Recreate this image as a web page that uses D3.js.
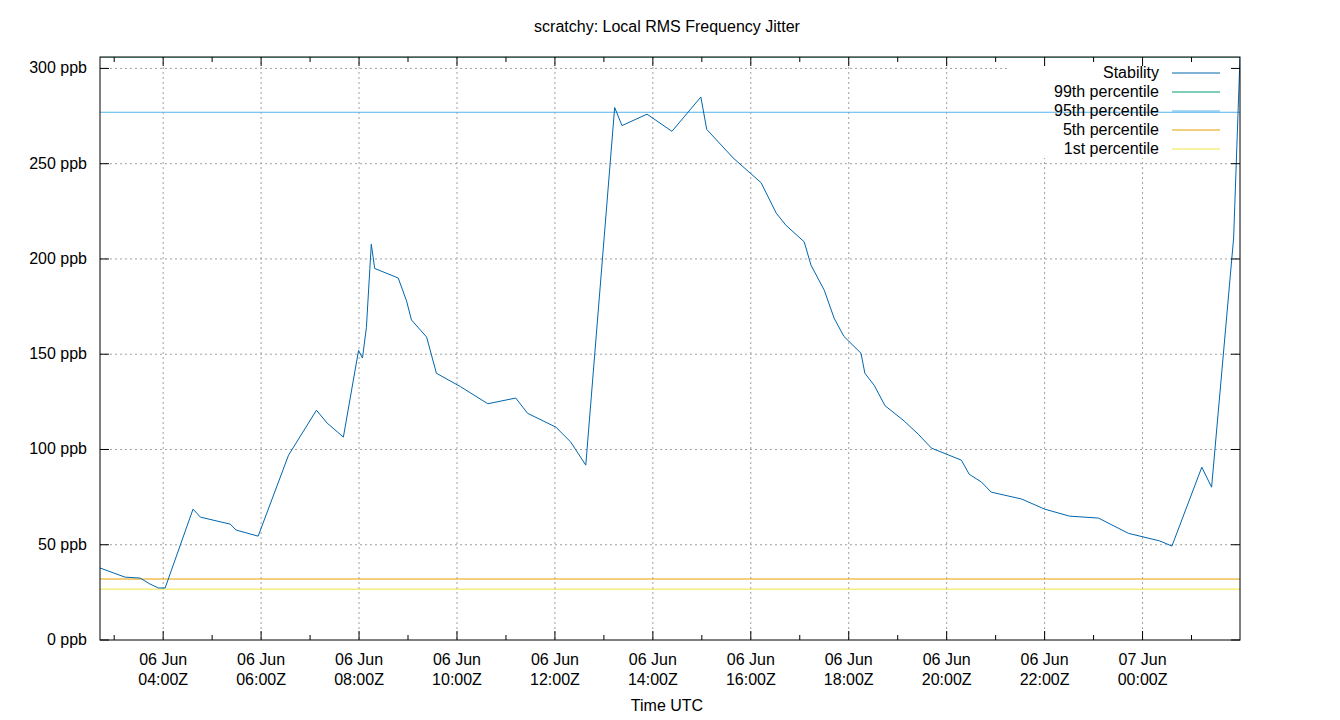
<!DOCTYPE html>
<html><head><meta charset="utf-8">
<script src="https://cdn.jsdelivr.net/npm/d3@7"></script>
<style>body{margin:0;background:#fff}text{font-family:"Liberation Sans",Arial,sans-serif;font-size:16px;fill:#000}</style>
</head><body><svg id="c" width="1340" height="720"></svg>
<script>
// hours since 06 Jun 00:00Z
const hours = [2.71,3.22,3.53,3.73,3.9,4.04,4.61,4.76,5.37,5.49,5.94,6.56,7.13,7.35,7.68,7.99,8.07,8.15,8.25,8.32,8.8,8.97,9.07,9.38,9.58,10.07,10.63,11.2,11.44,12.02,12.32,12.63,13.22,13.37,13.88,14.39,14.98,15.1,15.64,16.21,16.52,16.72,17.09,17.23,17.5,17.7,17.9,18.25,18.33,18.52,18.74,19.13,19.42,19.69,20.3,20.46,20.71,20.91,21.53,22.0,22.51,23.1,23.71,24.35,24.6,25.21,25.41,25.86,25.99];
const stability = [37.8,33,32.5,29.4,27.3,27.3,68.7,64.5,60.8,57.7,54.5,97,120.6,113.8,106.5,152,148,164,207.7,195,190,178,168,159,140,133,124,127,119,111.7,104,91.8,279.5,270,276,267,285,268,253,240,224,217.6,209,196.7,183.6,169,159.4,150.5,140,133.7,123,115,108,100.7,94.4,87,82.9,77.6,74,68.7,65,64,56,52,49.3,90.7,80.2,211,306];
const seriesNames = ["Stability","99th percentile","95th percentile","5th percentile","1st percentile"];
const seriesColors = ["#0066ad","#009e73","#56b4e9","#e69f00","#f0e442"];
const percentiles = [null,306,277,32,26.7];
const yTicks = [0,50,100,150,200,250,300];
const domainHours = [2.71,25.99];

const base = Date.UTC(2024,5,6);
const T = h => new Date(base + h*3600e3);
const svg = d3.select("#c");
const L=100,R=1240,Tp=57,B=640;
const x = d3.scaleUtc().domain(domainHours.map(T)).range([L,R]);
const y = d3.scaleLinear().domain([0,306]).range([B,Tp]);
const major = d3.utcHour.every(2).range(T(domainHours[0]),T(domainHours[1]));
const minor = d3.utcHour.every(1).range(T(domainHours[0]),T(domainHours[1]));
const g = svg.append("g");
g.selectAll(".gx").data(major).join("line").attr("x1",d=>x(d)).attr("x2",d=>x(d)).attr("y1",Tp).attr("y2",B)
 .attr("stroke","#a0a0a0").attr("stroke-dasharray","2,3");
g.selectAll(".gy").data(yTicks.slice(1)).join("line").attr("x1",L).attr("x2",R).attr("y1",d=>y(d)).attr("y2",d=>y(d))
 .attr("stroke","#a0a0a0").attr("stroke-dasharray","2,3");
svg.append("rect").attr("x",1010).attr("y",Tp+1).attr("width",R-1010-1).attr("height",100).attr("fill","#fff");
svg.append("clipPath").attr("id","cp").append("rect").attr("x",L).attr("y",Tp).attr("width",R-L).attr("height",B-Tp);
const pg = svg.append("g").attr("clip-path","url(#cp)");
percentiles.forEach((p,i)=>{ if(p==null) return;
  pg.append("line").attr("x1",L).attr("x2",R).attr("y1",y(p)).attr("y2",y(p)).attr("stroke",seriesColors[i]).attr("stroke-width",1);
});
pg.append("path").datum(hours.map((h,i)=>[T(h),stability[i]])).attr("fill","none").attr("stroke",seriesColors[0]).attr("stroke-width",1)
 .attr("d",d3.line().x(d=>x(d[0])).y(d=>y(d[1])));
svg.append("rect").attr("x",L).attr("y",Tp).attr("width",R-L).attr("height",B-Tp).attr("fill","none").attr("stroke","#000");
minor.forEach(d=>{const mj=d.getUTCHours()%2===0; const len=mj?9:5;
  svg.append("line").attr("x1",x(d)).attr("x2",x(d)).attr("y1",B).attr("y2",B-len).attr("stroke","#000");
  svg.append("line").attr("x1",x(d)).attr("x2",x(d)).attr("y1",Tp).attr("y2",Tp+len).attr("stroke","#000");});
yTicks.forEach(v=>{
  svg.append("line").attr("x1",L).attr("x2",L+9).attr("y1",y(v)).attr("y2",y(v)).attr("stroke","#000");
  svg.append("line").attr("x1",R).attr("x2",R-9).attr("y1",y(v)).attr("y2",y(v)).attr("stroke","#000");
  svg.append("text").attr("x",87).attr("y",y(v)+5).attr("text-anchor","end").text(v+" ppb");
});
const fd=d3.utcFormat("%d %b"), ft=d3.utcFormat("%H:%MZ");
major.forEach(d=>{
  svg.append("text").attr("x",x(d)).attr("y",665).attr("text-anchor","middle").text(fd(d));
  svg.append("text").attr("x",x(d)).attr("y",685).attr("text-anchor","middle").text(ft(d));
});
svg.append("text").attr("x",667).attr("y",711).attr("text-anchor","middle").text("Time UTC");
svg.append("text").attr("x",667).attr("y",32).attr("text-anchor","middle").text("scratchy: Local RMS Frequency Jitter");
seriesNames.forEach((n,i)=>{const yy=73+i*19;
  svg.append("text").attr("x",1159).attr("y",yy+5).attr("text-anchor","end").text(n);
  svg.append("line").attr("x1",1172).attr("x2",1220).attr("y1",yy).attr("y2",yy).attr("stroke",seriesColors[i]);
});
</script></body></html>
